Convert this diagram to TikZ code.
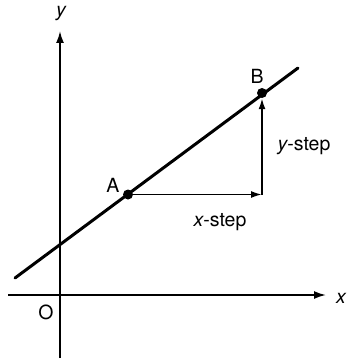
\documentclass[tikz,border=0pt]{standalone}
\usepackage{fontspec}
\setmainfont{TeX Gyre Heros}
\usetikzlibrary{arrows.meta}
\begin{document}
\begin{tikzpicture}[x=1pt,y=-1pt,
  axis/.style={line width=1.8pt,-{Latex[length=12pt,width=8pt]}},
  stepline/.style={line width=1.8pt,-{Latex[length=11pt,width=7pt]}},
  mainline/.style={line width=3pt},
  dot/.style={circle,fill=black,inner sep=0pt,minimum size=10pt},
  lab/.style={font=\fontsize{19.5}{22}\selectfont,inner sep=0pt}]
\useasboundingbox (0,0) rectangle (347,361);
% axes
\coordinate (xs) at (8,295);
\coordinate (xe) at (326,295);
\coordinate (ys) at (60,358);
\coordinate (ye) at (60,31);
\draw[axis] (xs) -- (xe);
\draw[axis] (ys) -- (ye);
\node[lab] (xl) at (341,298) {\itshape x};
\node[lab] (yl) at (61,14) {\itshape y};
\node[lab] (O) at (46,312) {O};
% main line
\coordinate (l1) at (15,278);
\coordinate (l2) at (298,68);
\draw[mainline,line cap=round] (l1) -- (l2);
% points
\node[dot] (A) at (128,194.5) {};
\node[dot] (B) at (262,93) {};
\coordinate (C) at (262,194.5);
\node[lab] (Al) at (113,185) {A};
\node[lab] (Bl) at (257,76) {B};
\draw[stepline] (A) -- (C);
\draw[stepline] (C) -- (B);
\node[lab] (xsl) at (220,222) {\itshape x\upshape-step};
\node[lab] (ysl) at (304,146) {\itshape y\upshape-step};
\end{tikzpicture}
\end{document}
